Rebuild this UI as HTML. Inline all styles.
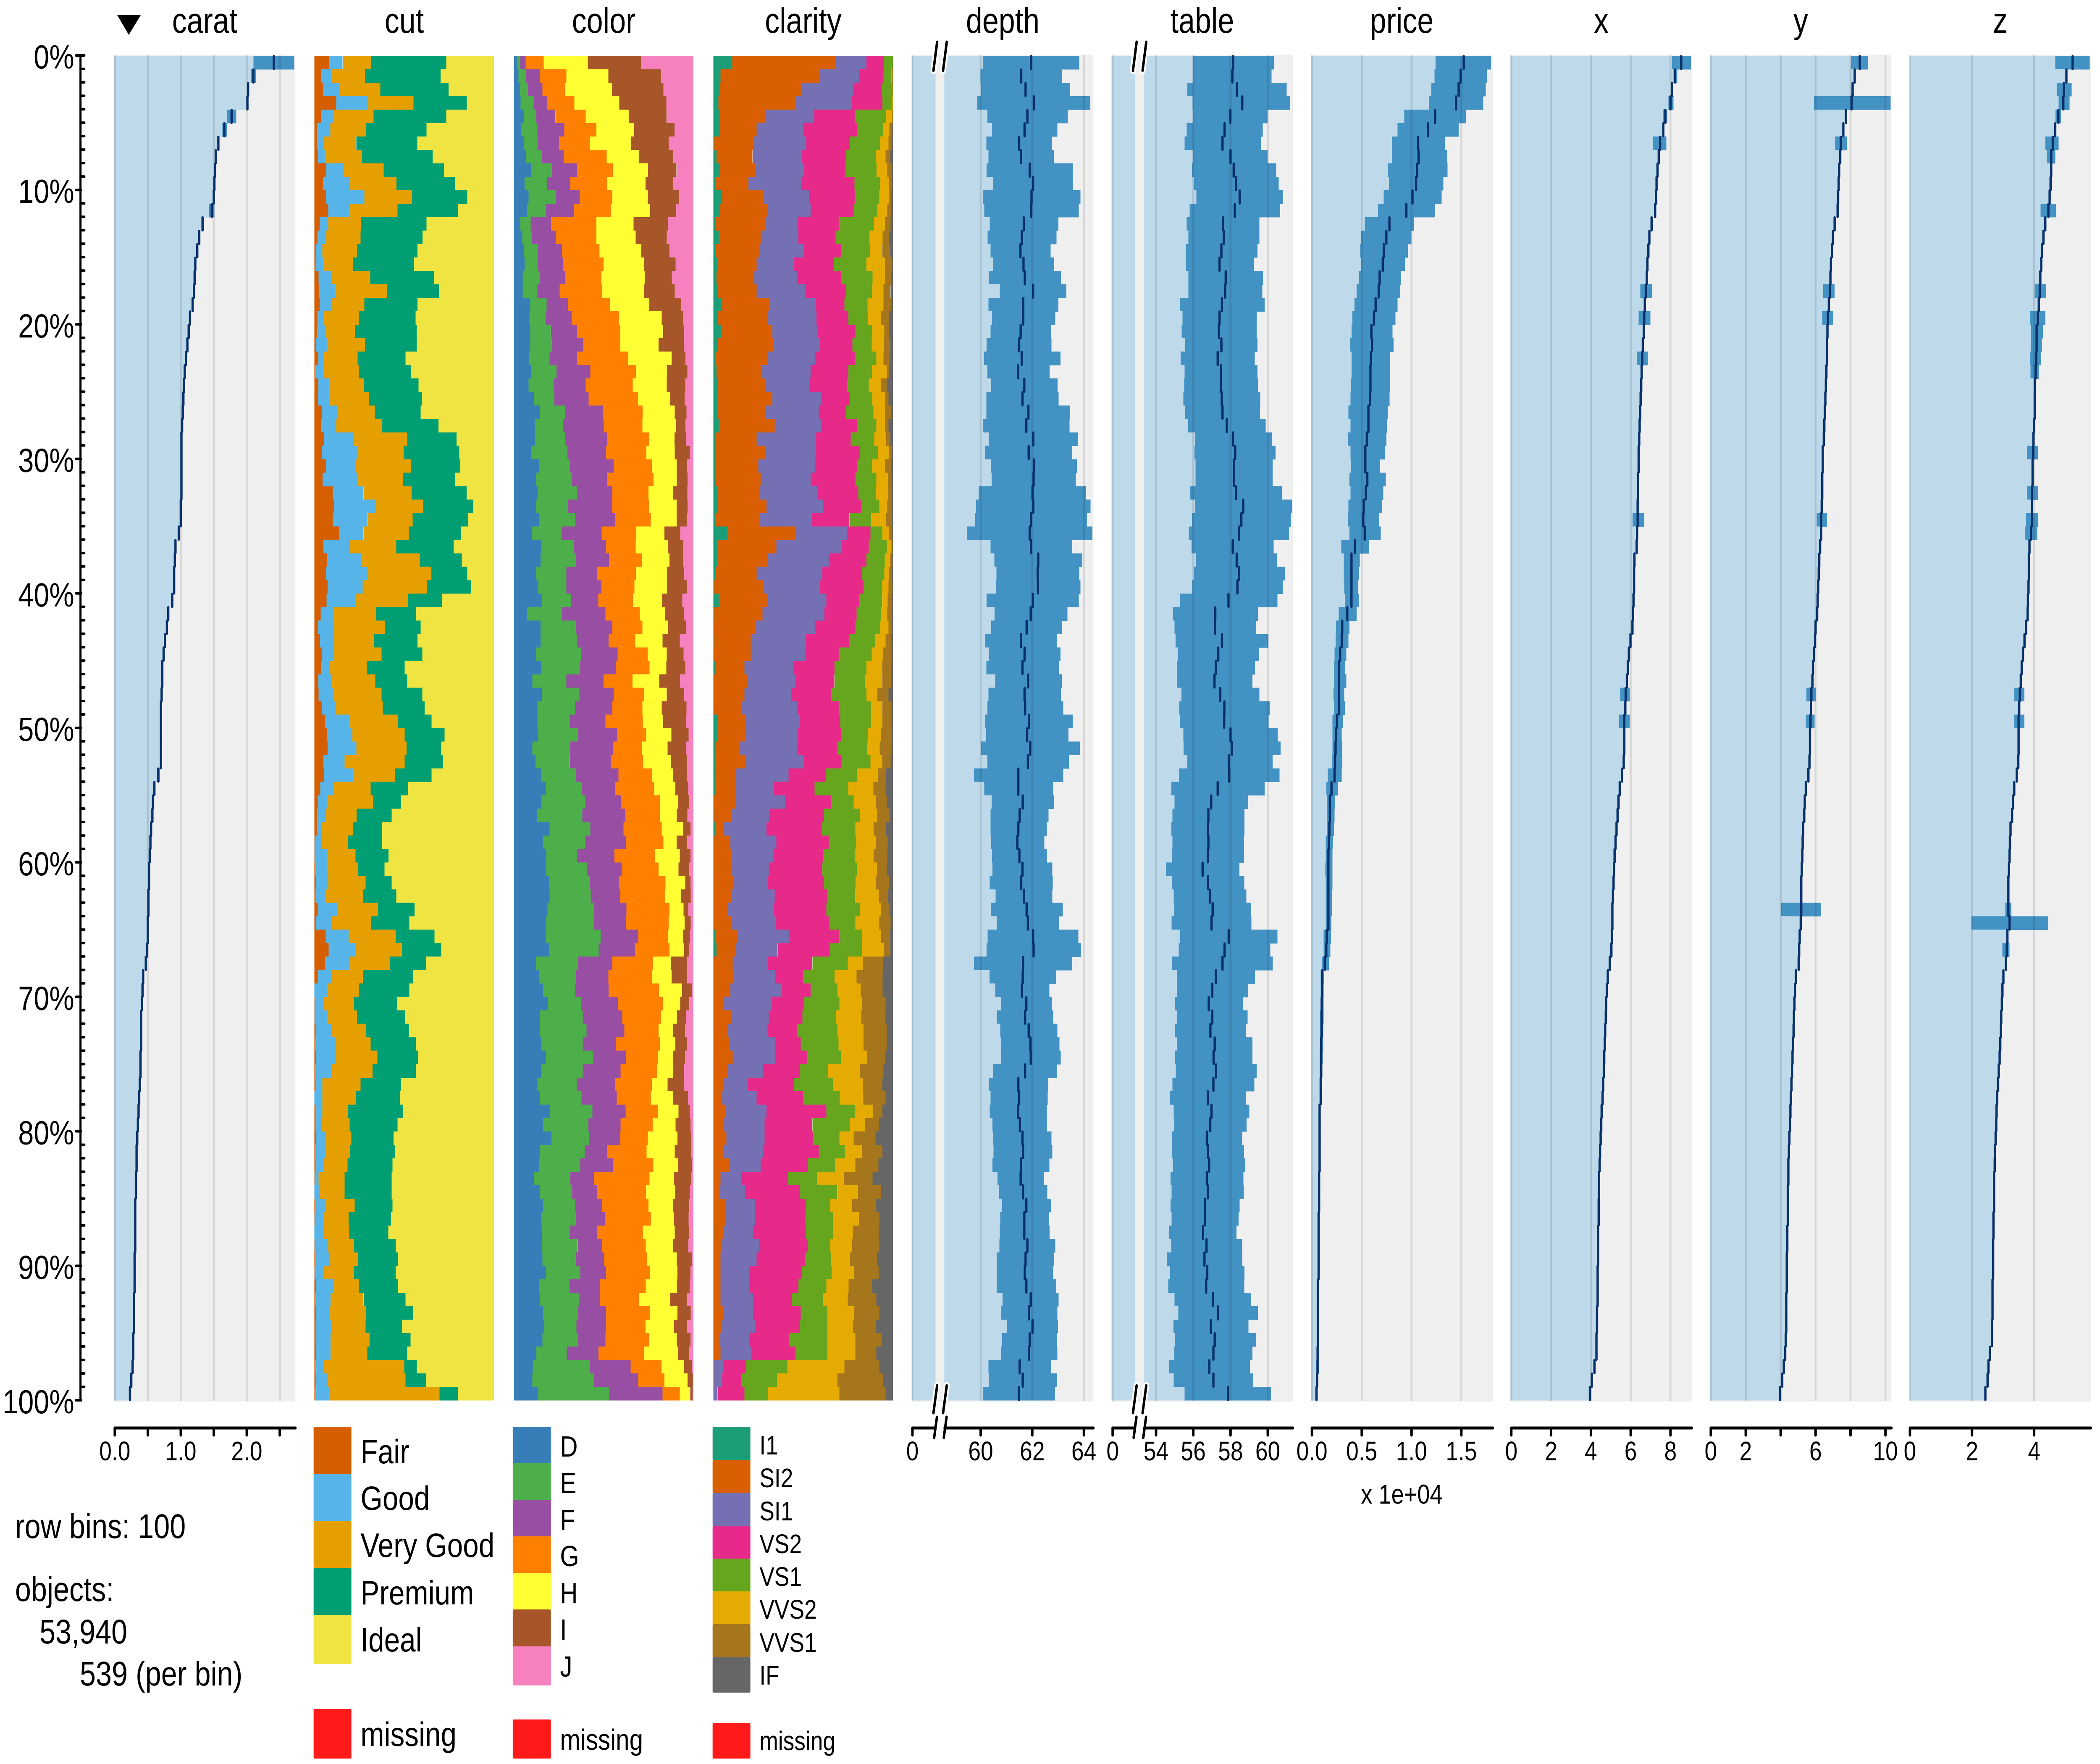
<!DOCTYPE html>
<html lang="en">
<head>
<meta charset="utf-8">
<title>Tableplot of diamonds</title>
<style>
html,body{margin:0;padding:0;background:#fff;width:100%;height:100%;overflow:hidden;}
svg{display:block;width:100vw;height:100vh;}
text{font-family:"Liberation Sans",sans-serif;fill:#000;}
</style>
</head>
<body>
<svg id="chart" xmlns="http://www.w3.org/2000/svg" viewBox="0 0 6000 4200" preserveAspectRatio="none">
  <rect x="0" y="0" width="6000" height="4200" fill="#fff"/>
  <polygon points="335,36 402,36 368,83" fill="#000"/>
  <g font-size="84" text-anchor="middle">
    <text x="585" y="78">carat</text>
    <text x="1155" y="78">cut</text>
    <text x="1725" y="78">color</text>
    <text x="2295" y="78">clarity</text>
    <text x="2865" y="78">depth</text>
    <text x="3435" y="78">table</text>
    <text x="4005" y="78">price</text>
    <text x="4575" y="78">x</text>
    <text x="5145" y="78">y</text>
    <text x="5715" y="78">z</text>
  </g>
  <g font-size="82">
    <text x="43" y="3662">row bins: 100</text>
    <text x="43" y="3812">objects:</text>
    <text x="113" y="3913">53,940</text>
    <text x="228" y="4013">539 (per bin)</text>
  </g>
  <g font-size="81">
    <rect x="896" y="3397" width="108" height="113" rx="3" fill="#D55E00"/>
    <rect x="896" y="3509" width="108" height="113" rx="3" fill="#56B4E9"/>
    <rect x="896" y="3621" width="108" height="113" rx="3" fill="#E69F00"/>
    <rect x="896" y="3733" width="108" height="113" rx="3" fill="#009E73"/>
    <rect x="896" y="3845" width="108" height="117" rx="3" fill="#F0E442"/>
    <rect x="896" y="4069" width="108" height="118" rx="3" fill="#FF1A1A"/>
    <text x="1030" y="3484">Fair</text>
    <text x="1030" y="3595">Good</text>
    <text x="1030" y="3707">Very Good</text>
    <text x="1030" y="3820">Premium</text>
    <text x="1030" y="3932">Ideal</text>
    <text x="1030" y="4157">missing</text>
  </g>
  <g font-size="70">
    <rect x="1465" y="3397" width="109" height="88" rx="3" fill="#377EB8"/>
    <rect x="1465" y="3484" width="109" height="88" rx="3" fill="#4DAF4A"/>
    <rect x="1465" y="3571" width="109" height="88" rx="3" fill="#984EA3"/>
    <rect x="1465" y="3658" width="109" height="88" rx="3" fill="#FF7F00"/>
    <rect x="1465" y="3745" width="109" height="88" rx="3" fill="#FFFF33"/>
    <rect x="1465" y="3832" width="109" height="89" rx="3" fill="#A65628"/>
    <rect x="1465" y="3920" width="109" height="93" rx="3" fill="#F781BF"/>
    <rect x="1465" y="4094" width="109" height="93" rx="3" fill="#FF1A1A"/>
    <text x="1600" y="3468">D</text>
    <text x="1600" y="3555">E</text>
    <text x="1600" y="3643">F</text>
    <text x="1600" y="3729">G</text>
    <text x="1600" y="3817">H</text>
    <text x="1600" y="3904">I</text>
    <text x="1600" y="3992">J</text>
    <text x="1600" y="4166">missing</text>
  </g>
  <g font-size="64">
    <rect x="2036" y="3397" width="108" height="80" rx="3" fill="#1B9E77"/>
    <rect x="2036" y="3476" width="108" height="79" rx="3" fill="#D95F02"/>
    <rect x="2036" y="3554" width="108" height="80" rx="3" fill="#7570B3"/>
    <rect x="2036" y="3633" width="108" height="79" rx="3" fill="#E7298A"/>
    <rect x="2036" y="3711" width="108" height="79" rx="3" fill="#66A61E"/>
    <rect x="2036" y="3789" width="108" height="79" rx="3" fill="#E6AB02"/>
    <rect x="2036" y="3867" width="108" height="80" rx="3" fill="#A6761D"/>
    <rect x="2036" y="3946" width="108" height="84" rx="3" fill="#666666"/>
    <rect x="2036" y="4103" width="108" height="84" rx="3" fill="#FF1A1A"/>
    <text x="2170" y="3463">I1</text>
    <text x="2170" y="3541">SI2</text>
    <text x="2170" y="3620">SI1</text>
    <text x="2170" y="3698">VS2</text>
    <text x="2170" y="3776">VS1</text>
    <text x="2170" y="3854">VVS2</text>
    <text x="2170" y="3933">VVS1</text>
    <text x="2170" y="4011">IF</text>
    <text x="2170" y="4167">missing</text>
  </g>
  <text x="4005" y="3580" font-size="65" text-anchor="middle">x 1e+04</text>
</svg>
<script>
// Row-axis values
const rowPercentTicks = [0, 10, 20, 30, 40, 50, 60, 70, 80, 90, 100];

// Categories
const cutCategories = ["Fair", "Good", "Very Good", "Premium", "Ideal"];
const colorCategories = ["D", "E", "F", "G", "H", "I", "J"];
const clarityCategories = ["I1", "SI2", "SI1", "VS2", "VS1", "VVS2", "VVS1", "IF"];

// Stack totals: each bin's cumulative boundaries run from 0 to this value
const cutBinTotal = 539;
const colorBinTotal = 619;
const clarityBinTotal = 618;

// Cumulative objects per bin (Fair, Good, Very Good, Premium; Ideal fills the remainder)
const cutBins = [
[45,85,171,396],[21,50,152,379],[26,77,198,403],[66,162,298,458],[20,58,178,396],
[7,48,155,337],[7,28,126,309],[11,32,143,355],[36,89,208,389],[26,107,247,422],
[35,150,293,459],[42,104,250,431],[16,42,140,337],[9,36,139,325],[6,24,128,310],
[4,26,117,299],[13,52,168,360],[14,62,219,374],[16,52,150,310],[9,30,134,304],
[8,34,122,307],[5,38,152,308],[12,30,130,274],[2,26,134,290],[12,44,149,313],
[11,44,164,323],[22,70,182,319],[21,66,204,373],[30,118,279,427],[23,131,268,435],
[35,123,291,438],[25,129,266,423],[55,148,292,457],[59,185,326,477],[55,160,295,462],
[74,148,284,440],[27,107,246,418],[38,141,317,443],[35,159,351,459],[40,145,339,471],
[37,122,282,383],[19,57,186,305],[10,60,213,319],[17,60,180,310],[22,60,202,324],
[21,46,158,271],[12,54,183,279],[13,57,202,324],[23,64,206,331],[32,104,251,352],
[38,114,271,391],[40,126,277,381],[27,91,271,386],[29,116,242,352],[18,58,169,282],
[10,39,176,260],[8,35,127,232],[7,22,117,204],[1,23,101,204],[1,38,124,223],
[2,39,131,211],[5,42,154,232],[3,33,147,246],[10,70,191,301],[6,54,171,285],
[34,103,244,361],[43,122,263,381],[32,108,228,336],[10,54,146,296],[0,38,134,285],
[1,29,119,248],[1,38,128,272],[4,54,156,284],[2,64,169,305],[5,64,189,311],
[2,54,175,305],[3,24,139,260],[0,24,125,257],[3,24,102,266],[3,23,106,250],
[5,33,111,238],[2,33,108,243],[3,27,100,235],[1,13,91,232],[0,17,91,232],
[2,33,121,235],[1,26,103,230],[0,29,105,222],[1,42,119,245],[2,46,131,251],
[1,30,119,244],[5,57,134,252],[2,49,148,274],[5,44,156,297],[4,54,154,263],
[4,49,166,289],[5,49,159,279],[2,29,270,308],[4,41,274,336],[2,44,376,431]
];

// Cumulative stack boundaries (D, E, F, G, H, I; J fills the remainder)
const colorBins = [
[10,22,41,103,255,439],[16,43,90,181,326,508],[21,49,99,176,338,516],[23,68,115,209,364,526],[35,78,144,248,397,527],
[24,81,174,285,415,554],[34,83,156,262,405,534],[42,98,172,320,432,550],[59,131,218,341,463,561],[37,115,195,322,454,550],
[51,145,227,339,462,569],[46,111,207,334,470,560],[22,58,128,285,413,531],[29,63,145,285,420,527],[35,82,166,296,440,537],
[37,82,169,309,450,558],[31,89,176,302,452,545],[31,81,158,304,449,555],[57,113,187,331,467,577],[54,110,199,362,510,584],
[57,128,218,367,515,587],[57,131,239,367,499,587],[53,123,218,394,544,592],[59,147,264,421,528,598],[51,138,248,410,527,591],
[69,140,258,428,539,589],[90,177,308,444,555,595],[72,169,310,443,560,592],[72,176,321,467,554,593],[60,185,318,457,555,606],
[87,193,344,476,562,596],[77,200,321,482,562,599],[82,218,340,464,548,598],[77,188,339,467,561,599],[87,212,350,472,561,596],
[62,165,303,422,519,574],[95,207,318,420,531,584],[92,215,328,441,537,584],[77,181,288,421,528,587],[84,181,302,416,528,596],
[98,198,291,411,511,581],[46,166,316,434,522,586],[92,214,340,443,532,593],[92,218,327,419,513,572],[77,232,358,461,527,585],
[94,228,352,468,526,591],[64,181,309,409,501,573],[97,226,345,449,527,587],[81,211,340,443,510,595],[81,193,316,445,515,593],
[84,221,356,456,543,603],[64,194,341,441,530,593],[75,191,335,446,542,597],[94,214,361,476,548,596],[111,235,349,484,557,601],
[94,246,369,504,566,604],[80,236,384,504,562,598],[123,264,378,510,584,609],[100,246,386,516,561,597],[112,218,347,487,572,609],
[112,252,372,499,568,604],[122,263,363,523,591,609],[123,265,367,522,577,610],[116,277,388,537,585,602],[112,275,386,534,589,610],
[111,300,429,531,584,607],[122,293,417,537,587,604],[76,221,340,480,542,596],[87,215,326,476,544,597],[101,212,327,501,580,615],
[118,232,359,514,574,605],[90,238,374,508,563,593],[90,251,381,499,550,590],[94,238,352,504,557,596],[111,274,387,497,548,590],
[95,238,368,495,548,587],[81,217,350,476,530,586],[90,233,355,472,549,600],[124,271,385,498,568,606],[101,257,368,479,558,609],
[130,259,367,462,564,612],[89,244,321,458,555,612],[88,229,341,481,566,615],[69,195,277,468,551,612],[90,201,288,456,556,607],
[101,212,305,464,549,605],[94,214,314,472,552,603],[97,193,286,445,555,604],[98,220,305,455,550,602],[99,214,311,460,562,615],
[111,229,318,469,564,609],[87,192,298,455,563,606],[90,226,298,431,539,597],[101,222,318,470,564,610],[105,216,318,454,552,596],
[99,222,316,466,562,609],[78,183,292,448,566,604],[65,263,403,509,587,615],[64,275,429,519,599,617],[84,329,513,572,608,616]
];

// Cumulative stack boundaries (I1, SI2, SI1, VS2, VS1, VVS2, VVS1; IF fills the remainder)
const clarityBins = [
[65,423,527,588,618,618,618],[25,366,502,586,611,616,618],[22,304,481,580,616,617,618],[18,284,478,582,616,618,618],[24,179,347,488,594,616,618],
[23,149,310,494,585,606,616],[3,137,320,471,575,603,615],[11,135,305,457,559,593,609],[23,147,313,455,562,599,614],[7,121,303,486,574,604,614],
[31,171,330,488,571,604,612],[23,185,335,483,565,599,611],[9,179,291,433,553,591,610],[19,163,293,421,537,583,605],[5,161,311,439,539,581,608],
[13,149,277,416,527,591,616],[11,141,287,439,548,591,611],[15,149,317,457,547,586,610],[31,193,354,451,531,586,611],[15,185,355,465,533,577,605],
[27,203,359,489,547,589,605],[15,205,367,479,545,587,609],[7,187,351,487,561,586,607],[11,167,335,465,546,597,604],[15,179,329,459,535,577,597],
[13,203,371,471,547,592,603],[13,181,363,457,551,591,611],[19,211,371,495,561,591,603],[9,149,353,473,554,594,609],[9,181,353,505,566,605,615],
[9,155,351,495,547,591,611],[9,163,335,489,561,601,613],[13,159,359,499,560,601,614],[15,183,377,509,571,599,615],[7,159,339,469,543,595,615],
[47,285,459,541,582,604,616],[13,217,443,535,597,613,617],[13,187,397,527,590,609,616],[5,149,375,513,589,605,615],[3,171,367,517,581,603,616],
[19,189,389,501,581,600,614],[3,169,383,493,577,599,615],[0,143,351,489,575,603,614],[3,129,319,467,557,593,611],[1,129,317,433,545,585,613],
[9,107,275,417,527,581,611],[1,117,283,417,523,581,611],[1,107,267,405,527,565,603],[0,95,287,435,543,581,613],[13,109,299,437,542,582,613],
[13,111,291,439,533,577,615],[9,91,289,427,529,573,613],[7,111,311,441,541,581,610],[9,77,259,387,494,567,595],[7,79,209,349,464,551,593],
[1,77,247,405,483,559,597],[3,61,193,381,504,563,607],[7,35,183,373,489,552,595],[1,59,217,397,492,560,600],[1,61,207,377,487,552,599],
[1,63,191,375,494,563,597],[1,69,189,381,490,560,604],[1,61,211,393,488,569,602],[1,51,209,389,504,577,607],[1,63,215,399,489,571,610],
[7,85,261,435,511,578,608],[11,77,221,401,513,587,609],[1,67,189,341,463,515,585],[1,69,213,309,417,493,583],[1,59,237,335,427,507,583],
[1,35,201,311,435,511,593],[1,63,191,307,423,509,592],[1,49,187,289,427,517,597],[2,57,213,301,431,517,597],[1,67,213,323,439,529,592],
[1,49,171,297,395,505,586],[1,35,119,277,413,515,582],[1,31,149,309,435,516,593],[1,41,183,389,487,550,582],[1,35,177,341,469,522,570],
[1,45,177,343,435,483,558],[1,37,171,363,453,511,582],[1,53,163,325,419,489,568],[1,25,95,257,357,449,548],[1,23,109,297,427,498,577],
[1,43,143,319,403,477,559],[1,43,143,317,413,501,572],[3,35,137,319,413,480,569],[1,27,157,325,403,477,571],[1,25,149,315,405,471,563],
[1,25,123,305,407,485,569],[1,25,123,293,389,466,545],[1,25,137,271,377,463,561],[1,37,137,301,393,485,571],[1,27,145,299,393,481,559],
[1,23,123,261,393,489,579],[1,25,131,283,393,489,561],[0,3,35,113,255,451,571],[0,3,31,95,219,427,585],[0,1,15,107,189,434,593]
];

// Carat: mean per bin, plus the bins with a visible spread
const caratMeans = [
2.41,2.10,2.02,2.01,1.77,1.66,1.57,1.53,1.52,1.51,1.50,1.47,1.33,1.28,1.25,1.22,1.21,1.20,1.18,1.14,
1.12,1.10,1.08,1.06,1.05,1.04,1.03,1.02,1.01,1.01,1.01,1.01,1.01,1.00,1.00,0.97,0.92,0.91,0.90,0.90,
0.87,0.81,0.79,0.76,0.74,0.72,0.72,0.71,0.70,0.70,0.70,0.70,0.70,0.66,0.60,0.58,0.57,0.55,0.54,0.53,
0.52,0.52,0.51,0.51,0.50,0.50,0.49,0.47,0.43,0.42,0.41,0.40,0.40,0.40,0.39,0.39,0.38,0.37,0.36,0.35,
0.34,0.33,0.33,0.32,0.32,0.31,0.31,0.31,0.31,0.30,0.30,0.30,0.29,0.29,0.29,0.28,0.28,0.27,0.25,0.23
];
const caratSpreadBins = [0,1,4,5,11,40,53];
const caratSpreadLow = [2.10,2.06,1.70,1.63,1.43,0.85,0.64];
const caratSpreadHigh = [2.72,2.14,1.84,1.70,1.51,0.89,0.68];

// Depth per bin: [mean - sd, mean, mean + sd]
const depthBins = [
[60.09,61.95,63.82],[59.99,61.57,63.15],[60.00,61.74,63.47],[59.86,62.06,64.25],[60.26,61.81,63.38],
[60.44,61.70,62.97],[60.22,61.49,62.75],[60.30,61.56,62.83],[60.23,61.90,63.57],[60.49,62.03,63.58],
[60.08,61.97,63.87],[60.14,61.96,63.80],[60.35,61.67,63.01],[60.27,61.60,62.94],[60.38,61.54,62.71],
[60.49,61.66,62.85],[60.32,61.71,63.11],[60.74,62.03,63.32],[60.30,61.65,63.01],[60.44,61.65,62.89],
[60.38,61.55,62.73],[60.23,61.49,62.74],[60.12,61.59,63.09],[60.26,61.45,62.67],[60.41,61.69,62.98],
[60.22,61.62,63.02],[60.22,61.85,63.47],[60.09,61.77,63.44],[60.31,62.04,63.77],[60.17,61.86,63.55],
[60.39,62.06,63.73],[60.42,62.05,63.69],[59.93,62.01,64.08],[59.82,62.04,64.26],[59.79,61.95,64.12],
[59.46,61.90,64.33],[60.38,61.95,63.54],[60.53,62.23,63.94],[60.61,62.21,63.82],[60.59,62.22,63.87],
[60.23,62.02,63.80],[60.54,61.94,63.36],[60.41,61.78,63.15],[60.17,61.56,62.96],[60.32,61.70,63.09],
[60.22,61.62,63.04],[60.56,61.84,63.14],[60.30,61.70,63.11],[60.26,61.72,63.20],[60.17,61.87,63.57],
[60.21,61.80,63.40],[60.01,61.92,63.84],[60.26,61.83,63.42],[59.74,61.46,63.20],[60.14,61.46,62.81],
[60.42,61.63,62.84],[60.38,61.51,62.63],[60.38,61.46,62.56],[60.41,61.42,62.47],[60.44,61.50,62.57],
[60.46,61.62,62.78],[60.35,61.57,62.79],[60.58,61.68,62.78],[60.39,61.78,63.18],[60.62,61.83,63.04],
[60.27,62.03,63.79],[60.23,62.05,63.89],[59.74,61.64,63.54],[60.34,61.63,62.92],[60.56,61.60,62.66],
[60.79,61.77,62.75],[60.63,61.72,62.81],[60.76,61.86,62.97],[60.80,61.93,63.05],[60.79,61.94,63.10],
[60.49,61.72,62.96],[60.31,61.46,62.61],[60.38,61.49,62.60],[60.35,61.45,62.56],[60.46,61.52,62.57],
[60.49,61.62,62.74],[60.50,61.64,62.78],[60.46,61.56,62.66],[60.65,61.55,62.45],[60.71,61.64,62.58],
[60.83,61.77,62.73],[60.76,61.69,62.65],[60.74,61.69,62.67],[60.72,61.81,62.89],[60.62,61.74,62.85],
[60.62,61.71,62.81],[60.62,61.77,62.93],[60.85,61.94,63.02],[60.79,61.87,62.97],[61.02,62.01,63.00],
[60.83,61.90,62.96],[60.79,61.87,62.97],[60.30,61.51,62.73],[60.32,61.63,62.96],[60.09,61.48,62.88]
];

// Table per bin: [mean - sd, mean, mean + sd]
const tableBins = [
[56.00,58.14,60.33],[56.00,58.10,60.20],[55.68,58.35,61.01],[55.96,58.63,61.21],[56.00,57.99,59.99],
[55.65,57.68,59.73],[55.54,57.57,59.64],[56.00,58.00,59.99],[55.93,58.17,60.45],[56.03,58.30,60.58],
[56.17,58.49,60.82],[55.80,58.23,60.66],[55.65,57.60,59.55],[55.74,57.64,59.55],[55.60,57.51,59.45],
[55.60,57.41,59.24],[55.74,57.74,59.74],[55.74,57.71,59.71],[55.27,57.54,59.83],[55.42,57.41,59.41],
[55.38,57.38,59.40],[55.57,57.51,59.45],[55.32,57.31,59.30],[55.54,57.48,59.45],[55.51,57.48,59.48],
[55.47,57.53,59.60],[55.55,57.57,59.58],[55.73,57.80,59.89],[56.09,58.13,60.22],[56.06,58.25,60.42],
[56.12,58.19,60.26],[56.12,58.19,60.26],[55.84,58.30,60.76],[56.09,58.68,61.30],[55.93,58.58,61.24],
[55.76,58.45,61.14],[55.91,58.12,60.32],[56.16,58.33,60.50],[56.03,58.46,60.91],[55.94,58.37,60.81],
[55.27,57.89,60.52],[54.92,57.18,59.48],[54.99,57.17,59.37],[55.05,57.54,60.03],[55.17,57.34,59.53],
[55.11,57.21,59.31],[55.11,57.14,59.17],[55.37,57.45,59.55],[55.25,57.67,60.10],[55.27,57.66,60.04],
[55.47,58.00,60.53],[55.48,58.07,60.69],[55.67,57.91,60.26],[55.24,57.93,60.63],[54.82,57.31,59.83],
[54.99,56.96,58.94],[54.88,56.81,58.75],[54.82,56.79,58.75],[54.88,56.81,58.73],[54.86,56.78,58.72],
[54.53,56.50,58.48],[54.86,56.79,58.73],[54.95,56.89,58.85],[54.98,57.04,59.11],[54.83,56.98,59.12],
[55.30,57.90,60.52],[55.22,57.68,60.14],[54.86,57.57,60.27],[55.12,57.21,59.31],[55.11,57.02,58.94],
[55.01,56.83,58.66],[55.14,57.02,58.92],[55.01,56.92,58.82],[55.12,57.15,59.18],[55.01,57.09,59.18],
[55.06,57.22,59.40],[54.88,57.08,59.28],[54.75,56.78,58.82],[54.95,56.98,59.01],[54.98,56.91,58.86],
[54.86,56.73,58.62],[54.86,56.79,58.72],[54.92,56.85,58.79],[54.78,56.73,58.69],[54.83,56.78,58.72],
[54.78,56.63,58.49],[54.83,56.63,58.43],[54.71,56.52,58.32],[54.81,56.71,58.62],[54.58,56.60,58.63],
[54.76,56.75,58.75],[54.65,56.69,58.73],[54.99,57.05,59.11],[55.19,57.32,59.47],[54.94,56.95,58.96],
[55.01,57.15,59.37],[54.98,57.08,59.18],[54.71,56.86,59.04],[54.95,57.08,59.22],[55.54,57.86,60.17]
];

// Price per bin in dollars: [mean - sd, mean, mean + sd]
const priceBins = [
[12410,15240,17970],[12310,14930,17560],[12000,14730,17460],[11740,14470,17200],[9270,12360,15450],
[8600,11640,14730],[8030,10660,13340],[8030,10710,13600],[7620,10560,13600],[7720,10450,13180],
[7210,10090,13030],[6640,9480,12360],[5300,7780,10250],[4940,7470,9990],[4840,7210,9630],
[4940,7110,9320],[4740,6800,8960],[4480,6700,8860],[4270,6390,8600],[4070,6230,8390],
[3970,5970,8090],[3810,6030,8190],[3970,5920,7830],[3970,5870,7830],[3910,5870,7830],
[3860,5820,7780],[3660,5670,7620],[3860,5670,7520],[3610,5510,7470],[3860,5360,7310],
[3910,5360,6850],[3760,5560,7420],[3860,5410,7160],[3660,5200,7060],[3610,5150,6750],
[3760,5300,6900],[2940,4330,5720],[3190,3970,4790],[3190,3970,4740],[3240,3970,4640],
[3300,3970,4740],[2680,3550,4480],[2420,3040,3760],[2370,2990,3660],[2270,2830,3450],
[2210,2730,3350],[2210,2730,3450],[2160,2730,3240],[2210,2730,3300],[2060,2520,3090],
[2060,2420,2990],[2060,2370,3040],[2010,2320,3040],[1600,2270,2990],[1440,1960,2580],
[1490,1800,2320],[1490,1800,2270],[1490,1750,2210],[1390,1700,2110],[1390,1650,2060],
[1340,1650,2060],[1390,1650,2060],[1390,1650,2010],[1390,1650,2010],[1390,1650,1960],
[1180,1490,1910],[1180,1440,1850],[980,1290,1700],[880,1030,1240],[880,1030,1180],
[880,980,1180],[820,980,1180],[820,980,1130],[820,930,1130],[770,930,1080],
[770,930,1030],[770,880,1030],[770,880,980],[670,770,880],[670,770,880],
[670,770,880],[670,770,880],[670,770,820],[620,720,820],[620,720,820],
[620,720,820],[570,670,770],[570,670,770],[570,670,720],[570,670,720],
[570,670,720],[570,620,720],[570,620,720],[570,620,720],[570,620,720],
[520,620,720],[460,570,670],[410,570,670],[410,520,620],[360,460,570]
];

// x: mean per bin, plus the bins with a visible spread
const xMeans = [
8.54,8.23,8.08,8.00,7.74,7.64,7.48,7.41,7.35,7.30,7.28,7.23,7.05,6.94,6.89,6.84,6.81,6.76,6.71,6.68,
6.66,6.61,6.58,6.55,6.53,6.50,6.48,6.45,6.43,6.40,6.40,6.37,6.37,6.35,6.35,6.32,6.30,6.19,6.17,6.17,
6.14,6.12,6.09,5.99,5.91,5.86,5.81,5.75,5.73,5.68,5.68,5.68,5.65,5.57,5.45,5.39,5.34,5.29,5.24,5.19,
5.16,5.14,5.11,5.08,5.08,5.06,5.03,4.95,4.85,4.80,4.77,4.75,4.72,4.70,4.67,4.65,4.62,4.59,4.54,4.52,
4.49,4.46,4.44,4.41,4.41,4.39,4.39,4.36,4.36,4.36,4.34,4.34,4.34,4.31,4.31,4.28,4.28,4.18,4.05,3.95
];
const xSpreadBins = [0,1,3,4,6,17,19,22,34,47,49];
const xSpreadLow = [8.08,8.15,7.90,7.61,7.12,6.48,6.40,6.30,6.09,5.47,5.42];
const xSpreadHigh = [9.03,8.34,8.15,7.85,7.79,7.07,6.99,6.86,6.66,5.96,5.96];

// y: mean per bin, plus the bins with a visible spread
const yMeans = [
8.53,8.24,8.12,8.06,7.74,7.59,7.44,7.41,7.35,7.32,7.29,7.26,7.09,7.00,6.94,6.88,6.85,6.82,6.76,6.71,
6.68,6.65,6.65,6.62,6.59,6.56,6.53,6.50,6.47,6.41,6.41,6.38,6.38,6.35,6.32,6.32,6.26,6.21,6.18,6.15,
6.12,6.09,6.00,5.97,5.91,5.85,5.82,5.76,5.74,5.71,5.68,5.68,5.65,5.59,5.44,5.38,5.35,5.29,5.26,5.24,
5.21,5.18,5.18,5.18,5.15,5.09,5.06,5.03,4.88,4.82,4.79,4.76,4.74,4.71,4.68,4.65,4.62,4.59,4.56,4.53,
4.50,4.47,4.44,4.44,4.41,4.41,4.41,4.38,4.38,4.35,4.35,4.35,4.32,4.32,4.32,4.29,4.26,4.18,4.09,3.97
];
const ySpreadBins = [0,3,6,17,19,34,47,49,63];
const ySpreadLow = [8.03,5.91,7.12,6.44,6.38,6.06,5.47,5.44,4.03];
const ySpreadHigh = [9.00,10.29,7.79,7.09,7.00,6.65,6.00,5.94,6.32];

// z: mean per bin, plus the bins with a visible spread
const zMeans = [
5.24,5.04,4.96,4.94,4.78,4.68,4.60,4.55,4.55,4.53,4.50,4.46,4.36,4.30,4.25,4.23,4.20,4.18,4.15,4.12,
4.08,4.08,4.07,4.05,4.03,4.02,4.02,4.00,3.98,3.97,3.95,3.95,3.93,3.93,3.93,3.90,3.85,3.83,3.83,3.82,
3.80,3.79,3.74,3.69,3.64,3.60,3.57,3.54,3.52,3.50,3.50,3.50,3.49,3.44,3.36,3.32,3.29,3.24,3.22,3.21,
3.19,3.17,3.17,3.17,3.21,3.14,3.12,3.09,3.01,2.98,2.96,2.94,2.93,2.91,2.89,2.86,2.84,2.81,2.79,2.78,
2.76,2.74,2.73,2.71,2.71,2.71,2.69,2.69,2.68,2.68,2.68,2.66,2.66,2.66,2.64,2.64,2.58,2.53,2.50,2.43
];
const zSpreadBins = [0,2,3,4,6,7,11,17,19,20,21,22,23,29,32,34,35,47,49,63,64,66];
const zSpreadLow = [4.68,4.74,4.79,4.69,4.36,4.41,4.21,4.02,3.87,3.90,3.90,3.87,3.88,3.77,3.77,3.74,3.70,3.36,3.36,3.07,1.98,2.98];
const zSpreadHigh = [5.79,5.21,5.14,4.86,4.79,4.68,4.71,4.38,4.36,4.28,4.25,4.23,4.15,4.13,4.13,4.12,4.10,3.69,3.69,3.27,4.45,3.21];

// Tick values and tick labels
const caratTicks = [0, 0.5, 1, 1.5, 2, 2.5];
const caratTickLabels = ["0.0", "", "1.0", "", "2.0", ""];
const depthTicks = [0, 60, 62, 64];
const depthTickLabels = ["0", "60", "62", "64"];
const tableTicks = [0, 54, 56, 58, 60];
const tableTickLabels = ["0", "54", "56", "58", "60"];
const priceTicks = [0, 5000, 10000, 15000];
const priceTickLabels = ["0.0", "0.5", "1.0", "1.5"];
const xTicks = [0, 2, 4, 6, 8];
const xTickLabels = ["0", "2", "4", "6", "8"];
const yTicks = [0, 2, 4, 6, 8, 10];
const yTickLabels = ["0", "2", "", "6", "", "10"];
const zTicks = [0, 2, 4];
const zTickLabels = ["0", "2", "4"];

const cutColors = ["#D55E00", "#56B4E9", "#E69F00", "#009E73", "#F0E442"];
const colorColors = ["#377EB8", "#4DAF4A", "#984EA3", "#FF7F00", "#FFFF33", "#A65628", "#F781BF"];
const clarityColors = ["#1B9E77", "#D95F02", "#7570B3", "#E7298A", "#66A61E", "#E6AB02", "#A6761D", "#666666"];

const svg = document.getElementById('chart');
const NS = 'http://www.w3.org/2000/svg';
const plotTop = 133;
const rowHeight = 32.01;
const binCount = 100;
const rowY = function (i) { return plotTop + i * rowHeight; };

function make(parent, tag, attrs) {
  const el = document.createElementNS(NS, tag);
  for (const k in attrs) el.setAttribute(k, attrs[k]);
  parent.appendChild(el);
  return el;
}
function slug(s) { return s.toLowerCase().replace(/\s+/g, '-'); }

// Stacked categorical columns
function drawStack(name, left, width, total, bins, categories, colors) {
  const g = make(svg, 'g', { 'shape-rendering': 'crispEdges' });
  
  
  const sx = function (v) { return left + v / total * width; };
  bins.forEach(function (row, i) {
    const edges = [0].concat(row, [total]);
    for (let c = 0; c < categories.length; c++) {
      const x0 = sx(edges[c]);
      const x1 = sx(edges[c + 1]);
      if (x1 <= x0) continue;
      const seg = make(g, 'rect', {
        x: x0.toFixed(1), y: rowY(i).toFixed(1),
        width: (x1 - x0).toFixed(1), height: (rowHeight + 0.6).toFixed(1),
        fill: colors[c]
      });
      
      
    }
  });
}
drawStack('cut', 898, 513, cutBinTotal, cutBins, cutCategories, cutColors);
drawStack('color', 1468, 513, colorBinTotal, colorBins, colorCategories, colorColors);
drawStack('clarity', 2038, 513, clarityBinTotal, clarityBins, clarityCategories, clarityColors);

// Turn "means + spread lists" into per-bin triples
function withSpread(means, spreadBins, low, high) {
  const rows = means.map(function (m) { return [m, m, m]; });
  spreadBins.forEach(function (b, k) {
    rows[b][0] = low[k];
    rows[b][2] = high[k];
  });
  return rows;
}

// Axis functions
const caratX = function (v) { return 328 + v * 188.5; };
const depthX = function (v) { return v < 1 ? 2607 : 2802 + (v - 60) * 73.7; };
const tableX = function (v) { return v < 1 ? 3179 : 3303 + (v - 54) * 53.2; };
const priceX = function (v) { return 3748.4 + v * 0.02846; };
const xX = function (v) { return 4318 + v * 56.85; };
const yX = function (v) { return 4888 + v * 49.9; };
const zX = function (v) { return 5457 + v * 88.7; };

const LIGHT = '#BDD9EA';
const DARK = '#4392C4';
const MEAN = '#08306B';
const GRAY = '#EFEFEF';

function drawNumeric(name, left, right, axisStart, scale, rows, ticks, tickLabels, gap) {
  const g = make(svg, 'g', {});
  
  

  const bg = make(g, 'rect', { x: left, y: 130, width: right - left, height: 3207, rx: 3, fill: GRAY });
  
  

  const fills = make(g, 'g', { 'shape-rendering': 'crispEdges' });
  rows.forEach(function (row, i) {
    const lo = scale(row[0]);
    const hi = scale(row[2]);
    const light = make(fills, 'rect', {
      x: left, y: rowY(i).toFixed(1), width: (lo - left).toFixed(1),
      height: (rowHeight + 0.6).toFixed(1), fill: LIGHT
    });
    
    
    if (hi > lo) {
      const dark = make(fills, 'rect', {
        x: lo.toFixed(1), y: rowY(i).toFixed(1), width: (hi - lo).toFixed(1),
        height: (rowHeight + 0.6).toFixed(1), fill: DARK
      });
      
      
    }
  });

  if (gap) {
    const band = make(g, 'rect', { x: gap[0], y: 133, width: gap[1] - gap[0], height: 3201, fill: GRAY });
    
    
  }

  ticks.forEach(function (t) {
    const gl = make(g, 'line', {
      x1: scale(t).toFixed(1), x2: scale(t).toFixed(1), y1: 131, y2: 3336,
      stroke: '#000', 'stroke-opacity': 0.1, 'stroke-width': 5.5
    });
    
    
  });

  rows.forEach(function (row, i) {
    const mx = scale(row[1]).toFixed(1);
    const mk = make(g, 'line', {
      x1: mx, x2: mx, y1: (rowY(i) + 1).toFixed(1), y2: (rowY(i) + rowHeight - 1).toFixed(1),
      stroke: MEAN, 'stroke-width': 6.5, 'stroke-linecap': 'round'
    });
    
    
  });

  // x axis line, ticks and labels
  const axis = make(svg, 'g', {});
  
  
  const lineStyle = { stroke: '#000', 'stroke-width': 7, 'stroke-linecap': 'round', fill: 'none' };
  function seg(parent, x1, y1, x2, y2, partName) {
    const l = make(parent, 'line', Object.assign({ x1: x1, y1: y1, x2: x2, y2: y2 }, lineStyle));
    
    
    return l;
  }
  if (gap) {
    seg(axis, axisStart, 3400, gap[0] - 2, 3400, name + '-axis-line');
    seg(axis, gap[1] + 1, 3400, right, 3400, name + '-axis-line');
  } else {
    seg(axis, axisStart, 3400, right, 3400, name + '-axis-line');
  }
  ticks.forEach(function (t, k) {
    const tx = scale(t);
    seg(axis, tx.toFixed(1), 3400, tx.toFixed(1), 3417, name + '-axis-tick');
    if (tickLabels[k]) {
      const lb = make(axis, 'text', {
        x: tx.toFixed(1), y: 3477, 'font-size': 64, 'text-anchor': 'middle'
      });
      lb.textContent = tickLabels[k];
      
      
    }
  });

  // axis-break slashes
  if (gap) {
    const offsets = [0, 27.5];
    offsets.forEach(function (dx) {
      const x0 = gap[0] - 6 + dx;
      [[168, 100], [3364, 3299]].forEach(function (ys) {
        const halo = make(svg, 'line', {
          x1: x0, y1: ys[0], x2: x0 + 10.5, y2: ys[1],
          stroke: '#fff', 'stroke-width': 17, 'stroke-linecap': 'round'
        });
        
        
        seg(svg, x0, ys[0], x0 + 10.5, ys[1], name + '-break-slash');
      });
      seg(svg, x0 + 2, 3423, x0 + 10, 3374, name + '-axis-break-slash');
    });
  }
}

drawNumeric('carat', 326, 844, 328, caratX, withSpread(caratMeans, caratSpreadBins, caratSpreadLow, caratSpreadHigh), caratTicks, caratTickLabels, null);
drawNumeric('depth', 2606, 3124, 2607, depthX, depthBins, depthTicks, depthTickLabels, [2673, 2698]);
drawNumeric('table', 3176, 3694, 3179, tableX, tableBins, tableTicks, tableTickLabels, [3243, 3268]);
drawNumeric('price', 3746, 4265, 3748, priceX, priceBins, priceTicks, priceTickLabels, null);
drawNumeric('x', 4316, 4834, 4318, xX, withSpread(xMeans, xSpreadBins, xSpreadLow, xSpreadHigh), xTicks, xTickLabels, null);
drawNumeric('y', 4886, 5404, 4888, yX, withSpread(yMeans, ySpreadBins, ySpreadLow, ySpreadHigh), yTicks, yTickLabels, null);
drawNumeric('z', 5456, 5974, 5457, zX, withSpread(zMeans, zSpreadBins, zSpreadLow, zSpreadHigh), zTicks, zTickLabels, null);

// Row axis
const rowAxis = make(svg, 'g', { stroke: '#000', 'stroke-width': 6, 'stroke-linecap': 'round' });


const rowAxisY = function (p) { return 132 + p * 32.02; };
const rowAxisLine = make(rowAxis, 'line', { x1: 230, x2: 230, y1: rowAxisY(0), y2: rowAxisY(100) });


for (let p = 0; p <= binCount; p++) {
  const py = rowAxisY(p).toFixed(1);
  const isMajor = rowPercentTicks.indexOf(p) >= 0;
  const tk = make(rowAxis, 'line', isMajor
    ? { x1: 217, x2: p === 0 ? 241 : 232, y1: py, y2: py }
    : { x1: 230, x2: 241, y1: py, y2: py });
  
  
}
rowPercentTicks.forEach(function (p) {
  const lb = make(svg, 'text', {
    x: 212, y: (rowAxisY(p) + 31).toFixed(1), 'font-size': 80, 'text-anchor': 'end'
  });
  lb.textContent = p + '%';
  
  
});
</script>
</body>
</html>
